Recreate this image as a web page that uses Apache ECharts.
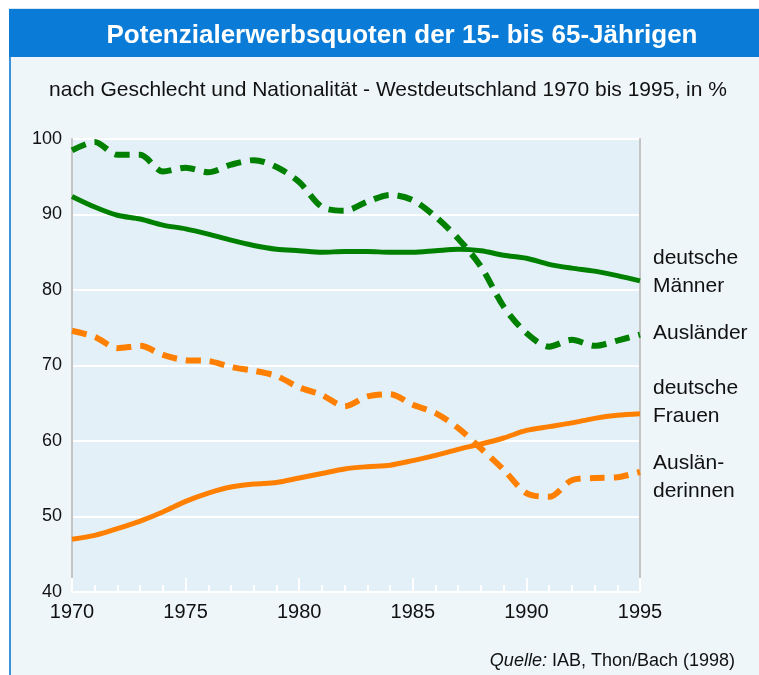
<!DOCTYPE html>
<html>
<head>
<meta charset="utf-8">
<script src="https://cdn.jsdelivr.net/npm/echarts@6/dist/echarts.min.js"></script>
<style>
html,body{margin:0;padding:0;background:#fff;}
#c{width:759px;height:675px;}
</style>
</head>
<body>
<div id="c"></div>
<script>
var years = [1970,1971,1972,1973,1974,1975,1976,1977,1978,1979,1980,1981,1982,1983,1984,1985,1986,1987,1988,1989,1990,1991,1992,1993,1994,1995];
var deutscheMaenner = [92.4,91.0,89.9,89.4,88.6,88.1,87.4,86.6,85.9,85.4,85.2,85.0,85.1,85.1,85.0,85.0,85.2,85.4,85.2,84.6,84.2,83.4,82.9,82.5,81.9,81.2];
var auslaender = [98.5,99.6,97.9,97.9,95.7,96.2,95.6,96.6,97.2,96.3,94.3,91.0,90.5,91.7,92.6,91.9,89.7,86.8,83.1,77.8,74.3,72.5,73.4,72.6,73.3,74.1];
var deutscheFrauen = [47.0,47.5,48.4,49.4,50.6,52.0,53.1,53.9,54.3,54.5,55.1,55.7,56.3,56.6,56.8,57.4,58.1,58.9,59.6,60.4,61.4,61.9,62.4,63.0,63.4,63.6];
var auslaenderinnen = [74.6,73.8,72.3,72.6,71.4,70.7,70.6,69.8,69.3,68.6,67.1,66.1,64.6,65.9,66.2,64.8,63.7,61.7,59.0,56.2,53.1,52.6,54.8,55.1,55.2,55.9];
var seriesNames = ['deutsche Männer','Ausländer','deutsche Frauen','Ausländerinnen'];
var labelTexts = ['deutsche\nMänner','Ausländer','deutsche\nFrauen','Auslän-\nderinnen'];
var yTicks = [40,50,60,70,80,90,100];

function pairs(v){ return years.map(function(y,i){return [y,v[i]];}); }

var chart = echarts.init(document.getElementById('c'), null, {renderer:'canvas'});
var FONT = 'Liberation Sans, Arial, sans-serif';
var green = '#008000', orange = '#ff8000';
var LBL = '21px ' + FONT;

chart.setOption({
  backgroundColor: '#ffffff',
  animation: false,
  graphic: [
    {type:'rect', shape:{x:9,y:8,width:750,height:667}, style:{fill:'#eff6fa'}, z:-10},
    {type:'rect', shape:{x:9,y:8,width:750,height:1}, style:{fill:'#d6e6f2'}, z:-9},
    {type:'rect', shape:{x:9,y:9,width:750,height:48}, style:{fill:'#0a7bd6'}, z:-9},
    {type:'rect', shape:{x:9,y:57,width:2,height:618}, style:{fill:'#3a93de'}, z:-9},
    {type:'text', left:653, top:244, style:{text:labelTexts[0], font:LBL, fill:'#111', lineHeight:28}},
    {type:'text', left:653, top:319, style:{text:labelTexts[1], font:LBL, fill:'#111', lineHeight:28}},
    {type:'text', left:653, top:374, style:{text:labelTexts[2], font:LBL, fill:'#111', lineHeight:28}},
    {type:'text', left:653, top:449, style:{text:labelTexts[3], font:LBL, fill:'#111', lineHeight:28}}
  ],
  title: [
    {text:'Potenzialerwerbsquoten der 15- bis 65-Jährigen', left:397, top:18, textAlign:'center',
     textStyle:{color:'#fff', fontFamily:FONT, fontWeight:'bold', fontSize:26}},
    {text:'nach Geschlecht und Nationalität - Westdeutschland 1970 bis 1995, in %', left:383, top:75, textAlign:'center',
     textStyle:{color:'#111', fontFamily:FONT, fontWeight:'normal', fontSize:21}},
    {text:'{i|Quelle:} {n|IAB, Thon/Bach (1998)}', right:19, top:647,
     textStyle:{fontWeight:'normal', rich:{i:{fontStyle:'italic', fontWeight:'normal', fontFamily:FONT, fontSize:18, color:'#111'}, n:{fontWeight:'normal', fontFamily:FONT, fontSize:18, color:'#111'}}}}
  ],
  grid: {left:72, right:119, top:139, bottom:83, show:true, backgroundColor:'#e3f0f7', borderWidth:0},
  xAxis: {
    type:'value', min:1970, max:1995, interval:5,
    axisLine:{show:true, lineStyle:{color:'#ffffff', width:2}},
    axisTick:{show:true, inside:true, length:14, lineStyle:{color:'#ffffff', width:2}},
    minorTick:{show:true, splitNumber:5, length:7, lineStyle:{color:'#ffffff', width:2}},
    splitLine:{show:false},
    axisLabel:{color:'#111', fontFamily:FONT, fontSize:20, margin:10, formatter:function(v){return String(v);}}
  },
  yAxis: [
    {type:'value', min:40, max:100, interval:10,
     axisLine:{show:true, lineStyle:{color:'#c4c4c4', width:2}},
     axisTick:{show:false},
     splitLine:{show:true, lineStyle:{color:'#ffffff', width:2}},
     axisLabel:{color:'#111', fontFamily:FONT, fontSize:18, margin:10,
       formatter:function(v){return yTicks.indexOf(v)>=0 ? String(v) : '';}}},
    {type:'value', min:40, max:100, interval:10, position:'right',
     axisLine:{show:true, lineStyle:{color:'#c4c4c4', width:2}},
     axisTick:{show:false}, axisLabel:{show:false}, splitLine:{show:false}}
  ],
  series: [
    {name:seriesNames[0], type:'line', data:pairs(deutscheMaenner), smooth:0.3, symbol:'none',
     lineStyle:{color:green, width:5}, z:3},
    {name:seriesNames[1], type:'line', data:pairs(auslaender), smooth:0.3, symbol:'none',
     lineStyle:{color:green, width:6, type:[15,9], cap:'butt'}, z:3},
    {name:seriesNames[2], type:'line', data:pairs(deutscheFrauen), smooth:0.3, symbol:'none',
     lineStyle:{color:orange, width:5}, z:3},
    {name:seriesNames[3], type:'line', data:pairs(auslaenderinnen), smooth:0.3, symbol:'none',
     lineStyle:{color:orange, width:6, type:[15,9], cap:'butt'}, z:3}
  ]
});
</script>
</body>
</html>
